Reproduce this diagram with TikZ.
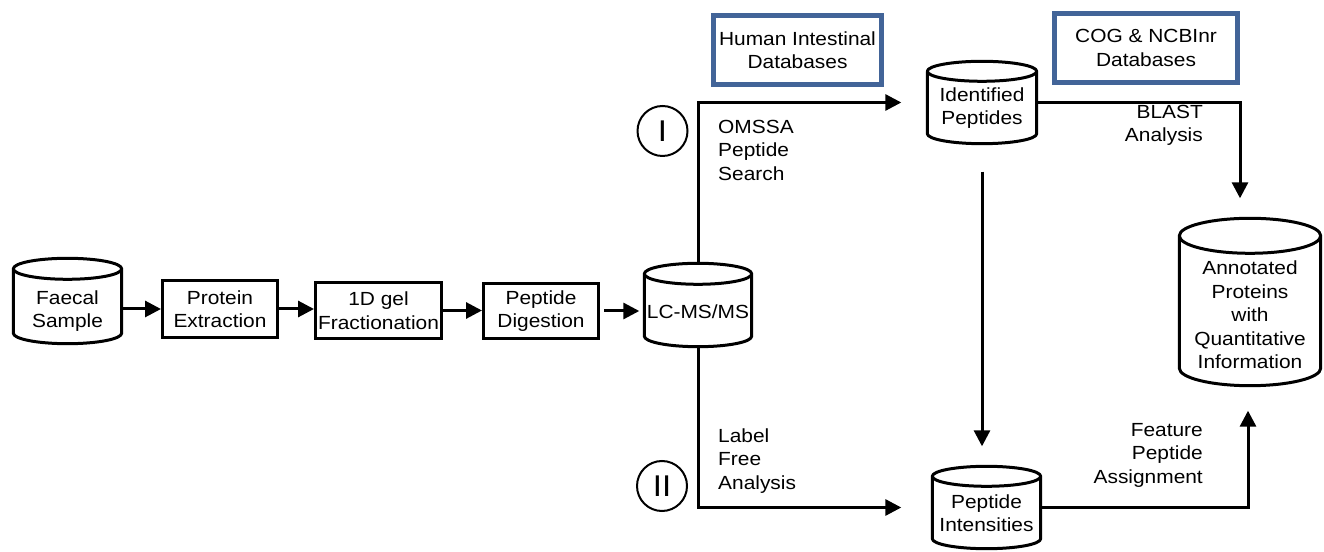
\documentclass[tikz,border=0pt]{standalone}
\usepackage{fontspec}
\setmainfont{Liberation Sans}[FakeStretch=1.1]
\usetikzlibrary{arrows.meta,calc}

\definecolor{dbblue}{RGB}{66,100,152}

\tikzset{
  every node/.style={font=\fontsize{19}{23.5}\selectfont, align=center},
  stepbox/.style={draw, line width=3pt, inner sep=0pt},
  dbbox/.style={draw=dbblue, line width=5pt, inner sep=0pt},
  drumbody/.style={draw=none, inner sep=0pt},
  drumtext/.style={inner sep=0pt},
  outline/.style={line width=3pt, line join=round},
  arr/.style={line width=3pt, -{Triangle[length=16pt,width=16pt]}},
  route/.style={font=\fontsize{19}{23.5}\selectfont, inner sep=0pt},
  branch/.style={draw, circle, line width=2pt, minimum size=50pt, inner sep=0pt,
                 font=\fontsize{30}{30}\selectfont}
}

% cylinder outline around an (invisible) node: #1 node name, #2 half-height of the end ellipse
\newcommand\drumoutline[2]{%
  \draw[outline] let \p1=(#1.north west), \p2=(#1.south east), \n1={(\x2-\x1)/2} in
    (\x1,\y1-#2pt) -- (\x1,\y2+#2pt)
    arc[start angle=180, end angle=360, x radius=\n1, y radius=#2pt]
    -- (\x2,\y1-#2pt)
    ({(\x1+\x2)/2},\y1-#2pt) ellipse[x radius=\n1, y radius=#2pt];
}

\begin{document}
\begin{tikzpicture}[x=1pt,y=1pt]
\useasboundingbox (0,0) rectangle (1324,551);

% ---- sample preparation chain ----
\node[drumbody, minimum width=108, minimum height=85] (faecal) at (67.5,250) {};
\drumoutline{faecal}{10.5}
\node[drumtext] (faecal-t) at (67.5,240) {Faecal\\Sample};

\node[stepbox, minimum width=115, minimum height=57] (protein) at (220,242) {Protein\\Extraction};
\node[stepbox, minimum width=126, minimum height=56] (gel) at (378.5,240.5) {1D gel\\Fractionation};
\node[stepbox, minimum width=115, minimum height=55] (digest) at (541,240) {Peptide\\Digestion};

\node[drumbody, minimum width=107, minimum height=83] (lc) at (698,246) {};
\drumoutline{lc}{10.5}
\node[drumtext] (lc-t) at (698,239) {LC-MS/MS};

% ---- results ----
\node[drumbody, minimum width=109, minimum height=82] (id) at (982,448.5) {};
\drumoutline{id}{10}
\node[drumtext] (id-t) at (982,443) {Identified\\Peptides};

\node[drumbody, minimum width=108, minimum height=82] (int) at (986.5,43.5) {};
\drumoutline{int}{10}
\node[drumtext] (int-t) at (986.5,38) {Peptide\\Intensities};

\node[drumbody, minimum width=141, minimum height=167] (ann) at (1250,249) {};
\drumoutline{ann}{17.5}
\node[drumtext] (ann-t) at (1250,236) {Annotated\\Proteins\\with\\Quantitative\\Information};

% ---- databases ----
\node[dbbox, minimum width=168, minimum height=69] (hidb) at (797.5,501) {Human Intestinal\\Databases};
\node[dbbox, minimum width=183, minimum height=69] (cogdb) at (1146,503) {COG \& NCBInr\\Databases};

% ---- branch markers ----
\node[branch] (b1) at (662.5,420) {I};
\node[branch] (b2) at (662,65) {II};

% ---- connectors ----
\draw[arr] (faecal.east |- protein.west) -- (protein.west);
\draw[arr] (protein.east) -- (protein.east -| gel.west);
\draw[arr] (gel.east) -- (gel.east -| digest.west);
\draw[arr, shorten <=4pt, shorten >=5pt] (digest.east) -- (digest.east -| lc.west);

\draw[arr, shorten >=26pt] (lc.north) |- (id.west);
\draw[arr, shorten >=31pt] (lc.south) |- (int.west);
\draw[arr, shorten <=28pt, shorten >=20pt] (id.south) -- (id.south |- int.north);
\draw[arr, shorten >=20pt] (id.east) -| ([xshift=-10pt]ann.north);
\draw[arr, shorten >=25pt] (int.east) -| ([xshift=-2pt]ann.south);

% ---- connector labels ----
\node[route, anchor=west, align=left] (omssa) at (718,401) {OMSSA\\Peptide\\Search};
\node[route, anchor=west, align=left] (lfa) at (718,90) {Label\\Free\\Analysis};
\node[route, anchor=east, align=right] (blast) at (1203,425.5) {BLAST\\Analysis};
\node[route, anchor=east, align=right] (feat) at (1203,96) {Feature\\Peptide\\Assignment};
\end{tikzpicture}
\end{document}
